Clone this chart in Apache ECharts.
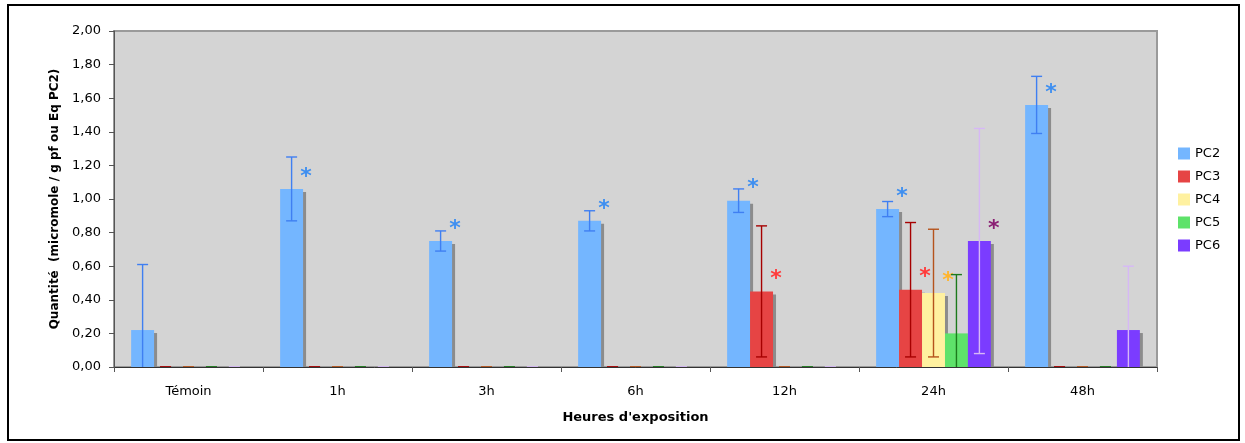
<!DOCTYPE html>
<html>
<head>
<meta charset="utf-8">
<script src="https://cdn.jsdelivr.net/npm/echarts@6/dist/echarts.min.js"></script>
<style>
html,body{margin:0;padding:0;background:#fff;}
#c{width:1245px;height:443px;}
</style>
</head>
<body>
<div id="c"></div>
<script>
// ---- data ----
var categories = ['Témoin', '1h', '3h', '6h', '12h', '24h', '48h'];
var seriesNames = ['PC2', 'PC3', 'PC4', 'PC5', 'PC6'];
var pc2 = [0.22, 1.06, 0.75, 0.87, 0.99, 0.94, 1.56];
var pc2Err = [0.39, 0.19, 0.06, 0.06, 0.07, 0.045, 0.17];
var pc2Star = [0, 1, 1, 1, 1, 1, 1];
var pc3 = [0, 0, 0, 0, 0.45, 0.46, 0];
var pc3Err = [0, 0, 0, 0, 0.39, 0.40, 0];
var pc3Star = [0, 0, 0, 0, 1, 1, 0];
var pc4 = [0, 0, 0, 0, 0, 0.44, 0];
var pc4Err = [0, 0, 0, 0, 0, 0.38, 0];
var pc4Star = [0, 0, 0, 0, 0, 1, 0];
var pc5 = [0, 0, 0, 0, 0, 0.20, 0];
var pc5Err = [0, 0, 0, 0, 0, 0.35, 0];
var pc5Star = [0, 0, 0, 0, 0, 0, 0];
var pc6 = [0, 0, 0, 0, 0, 0.75, 0.22];
var pc6Err = [0, 0, 0, 0, 0, 0.67, 0.38];
var pc6Star = [0, 0, 0, 0, 0, 1, 0];
var yTicks = { min: 0, max: 2, interval: 0.2 };

// ---- styles ----
var values = [pc2, pc3, pc4, pc5, pc6];
var errs = [pc2Err, pc3Err, pc4Err, pc5Err, pc6Err];
var stars = [pc2Star, pc3Star, pc4Star, pc5Star, pc6Star];
var barColors = ['#74b6ff', '#e64444', '#fff1a0', '#5ee26a', '#7b3cff'];
var errColors = ['#3f7ff2', '#a60000', '#b5531c', '#1c7a1c', '#d6b8f6'];
var starColors = ['#3f8ff0', '#ff3b3b', '#ffb52e', '#2a9a2a', '#8a1f73'];
var CAT_GAP = 0.23;
var N = seriesNames.length;
var FONT = 'DejaVu Sans, Verdana, sans-serif';

var chart = echarts.init(document.getElementById('c'), null, { renderer: 'canvas' });

var series = [];
seriesNames.forEach(function (name, k) {
  series.push({
    name: name,
    type: 'bar',
    data: values[k],
    barGap: '0%',
    barCategoryGap: (CAT_GAP * 100) + '%',
    itemStyle: {
      color: barColors[k],
      shadowColor: '#8c8c8c',
      shadowBlur: 0,
      shadowOffsetX: 3,
      shadowOffsetY: 3
    },
    emphasis: { disabled: true },
    z: 2
  });
});

seriesNames.forEach(function (name, k) {
  var data = categories.map(function (c, i) {
    return [i, values[k][i], errs[k][i], stars[k][i]];
  });
  series.push({
    type: 'custom',
    data: data,
    encode: { x: 0, y: 1 },
    z: 5,
    silent: true,
    renderItem: function (params, api) {
      var idx = api.value(0), v = api.value(1), e = api.value(2), st = api.value(3);
      var band = api.size([1, 0])[0];
      var total = band * (1 - CAT_GAP);
      var bw = total / N;
      var cx = api.coord([idx, 0])[0] - total / 2 + bw * (k + 0.5);
      var hi = v + e, lo = v - e;
      var yHi = api.coord([idx, hi])[1];
      var yLo = api.coord([idx, Math.max(lo, 0)])[1];
      var yTop = api.coord([idx, v])[1];
      var half = 5.5;
      var ls = { stroke: errColors[k], lineWidth: 1.4 };
      var children = [
        { type: 'line', shape: { x1: cx, y1: yHi, x2: cx, y2: yLo }, style: ls },
        { type: 'line', shape: { x1: cx - half, y1: yHi, x2: cx + half, y2: yHi }, style: ls }
      ];
      if (lo >= 0) {
        children.push({ type: 'line', shape: { x1: cx - half, y1: yLo, x2: cx + half, y2: yLo }, style: ls });
      }
      if (st) {
        children.push({
          type: 'text',
          style: {
            text: '*', x: cx + bw / 2 + 3, y: yTop - 12,
            fill: starColors[k], font: 'bold 22px ' + FONT,
            align: 'center', verticalAlign: 'middle'
          }
        });
      }
      return { type: 'group', children: children };
    }
  });
});

chart.setOption({
  animation: false,
  backgroundColor: '#ffffff',
  textStyle: { fontFamily: FONT },
  graphic: [{
    type: 'rect',
    shape: { x: 8, y: 5, width: 1231, height: 435 },
    style: { fill: 'none', stroke: '#000', lineWidth: 2 },
    silent: true, z: -10
  }, {
    type: 'rect',
    shape: { x: 113, y: 368, width: 1046, height: 5 },
    style: { fill: '#ffffff' },
    silent: true, z: 4
  }],
  grid: {
    left: 114, right: 88, top: 31, bottom: 76,
    show: true, backgroundColor: '#d4d4d4', borderColor: '#9a9a9a', borderWidth: 2
  },
  legend: {
    data: seriesNames,
    orient: 'vertical',
    left: 1173, top: 142,
    itemWidth: 12, itemHeight: 12, itemGap: 10,
    icon: 'rect',
    itemStyle: { shadowColor: 'transparent', shadowBlur: 0, shadowOffsetX: 0, shadowOffsetY: 0 },
    textStyle: { fontSize: 13, color: '#000', fontFamily: FONT }
  },
  xAxis: {
    type: 'category',
    data: categories,
    z: 10,
    name: "Heures d'exposition",
    nameLocation: 'middle',
    nameGap: 44,
    nameTextStyle: { fontSize: 13, fontWeight: 'bold', color: '#000', fontFamily: FONT },
    axisLine: { lineStyle: { color: '#333', width: 1 } },
    axisTick: { show: true, length: 5, lineStyle: { color: '#555' } },
    axisLabel: { fontSize: 13, color: '#000', margin: 18, fontFamily: FONT },
    splitLine: { show: false }
  },
  yAxis: {
    type: 'value',
    z: 10,
    min: yTicks.min, max: yTicks.max, interval: yTicks.interval,
    name: 'Quantité  (micromole / g pf ou Eq PC2)',
    nameLocation: 'middle',
    nameGap: 48,
    nameTextStyle: { fontSize: 12, fontWeight: 'bold', color: '#000', fontFamily: FONT },
    axisLine: { show: true, lineStyle: { color: '#555', width: 1 } },
    axisTick: { show: true, length: 5, lineStyle: { color: '#555' } },
    axisLabel: {
      fontSize: 13, color: '#000', margin: 13, fontFamily: FONT,
      formatter: function (v) { return v.toFixed(2).replace('.', ','); }
    },
    splitLine: { show: false }
  },
  series: series
});
</script>
</body>
</html>
